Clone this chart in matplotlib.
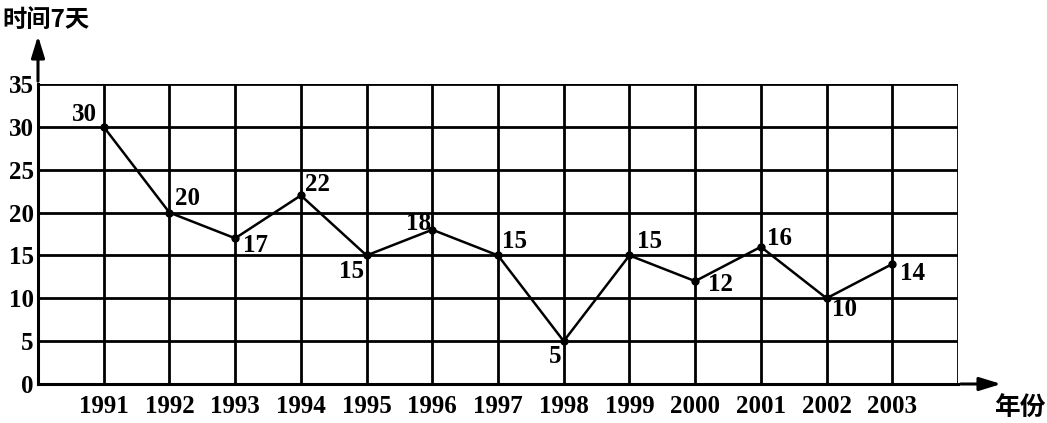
import matplotlib
matplotlib.use("Agg")
import matplotlib.pyplot as plt

years = [1991, 1992, 1993, 1994, 1995, 1996, 1997, 1998, 1999, 2000, 2001, 2002, 2003]
days = [30, 20, 17, 22, 15, 18, 15, 5, 15, 12, 16, 10, 14]
# label offsets in pixels (dx, dy) relative to each point
label_offsets = [(-19, 12), (18, 14), (20, -7), (17, 11), (-15, -16), (-14, 6), (17, 14),
                 (-9, -15), (20, 14), (25, -3), (19, 8), (18, -11), (20, -10)]
yticks = [0, 5, 10, 15, 20, 25, 30, 35]

W, H = 1047, 423
fig = plt.figure(figsize=(W / 100, H / 100), dpi=100)
left, right, bottom, top = 38, 958, 384, 84
ax = fig.add_axes([left / W, 1 - bottom / H, (right - left) / W, (bottom - top) / H])

serif = "Liberation Serif"
fs = 18
ax.set_xlim(1990, 2004)
ax.set_ylim(0, 35)

lw_grid = 2.0
for y in yticks[1:]:
    ax.axhline(y, color="black", lw=lw_grid, zorder=1)
for x in years + [2004]:
    ax.axvline(x, color="black", lw=lw_grid, zorder=1)

for s in ["top", "right"]:
    ax.spines[s].set_visible(False)
ax.spines["left"].set_linewidth(2.2)
ax.spines["bottom"].set_linewidth(2.2)

ax.plot(years, days, color="black", lw=1.8, marker="o", ms=5, zorder=3)

for x, y, (dx, dy) in zip(years, days, label_offsets):
    ax.annotate(str(y), (x, y), xytext=(dx, dy), textcoords="offset pixels",
                ha="center", va="center", fontsize=fs, family=serif,
                fontweight="bold", zorder=4)

ax.set_yticks(yticks)
ax.set_yticklabels([str(v) for v in yticks], fontsize=fs, family=serif, fontweight="bold")
ax.set_xticks(years)
ax.set_xticklabels([str(v) for v in years], fontsize=fs, family=serif, fontweight="bold")
ax.tick_params(axis="both", length=0)
ax.tick_params(axis="y", pad=3)
ax.tick_params(axis="x", pad=8)

# axis arrows
ax.annotate("", xy=(1004 / W, 1 - 384 / H), xytext=(958 / W, 1 - 384 / H),
            xycoords="figure fraction", textcoords="figure fraction",
            arrowprops=dict(arrowstyle="-|>,head_length=1.3,head_width=0.4", color="black", lw=2.2))
ax.annotate("", xy=(38 / W, 1 - 33 / H), xytext=(38 / W, 1 - 84 / H),
            xycoords="figure fraction", textcoords="figure fraction",
            arrowprops=dict(arrowstyle="-|>,head_length=1.3,head_width=0.4", color="black", lw=2.2))

cjk = ["Noto Sans CJK SC", "DejaVu Sans"]
fig.text(2 / W, 1 - 20 / H, "时间7天", family=cjk, fontsize=17.5, fontweight="bold",
         ha="left", va="center")
fig.text(1046 / W, 1 - 408 / H, "年份", family=cjk, fontsize=18.5, fontweight="bold",
         ha="right", va="center")

fig.savefig("out.png", dpi=100)
